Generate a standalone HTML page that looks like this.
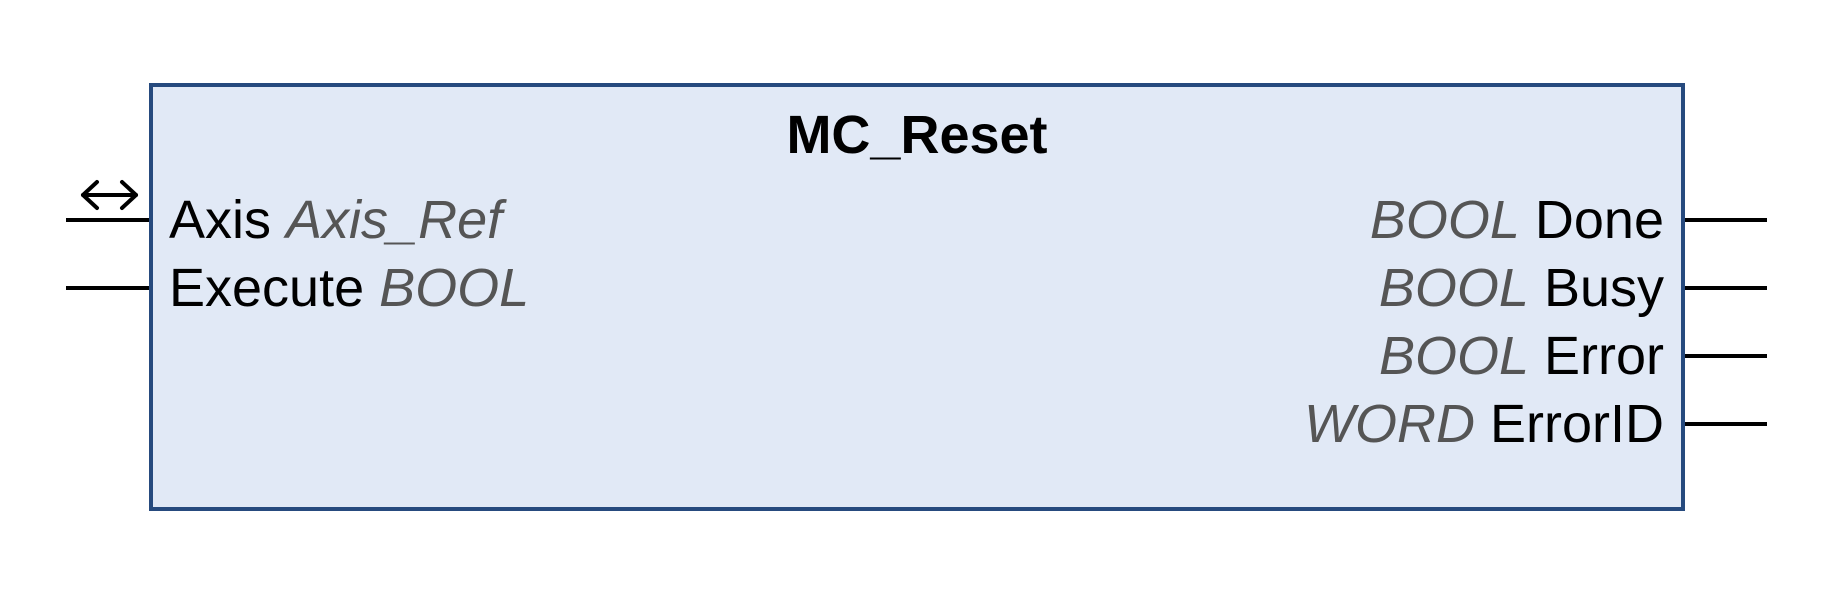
<!DOCTYPE html>
<html><head><style>
html,body{margin:0;padding:0;background:#fff;}
svg{display:block;}
text{font-family:"Liberation Sans",Arial,sans-serif;font-size:54px;}
.t{fill:#555;font-style:italic;}
</style></head><body>
<svg width="1836" height="594" viewBox="0 0 1836 594">
<rect x="151" y="85" width="1532" height="424" fill="#e1e9f6" stroke="#264a7e" stroke-width="4"/>
<text x="917" y="153" text-anchor="middle" font-weight="bold" font-size="52">MC_Reset</text>
<g stroke="#000" stroke-width="4">
<line x1="66" y1="220" x2="149" y2="220"/>
<line x1="66" y1="288" x2="149" y2="288"/>
<line x1="1685" y1="220" x2="1767" y2="220"/>
<line x1="1685" y1="288" x2="1767" y2="288"/>
<line x1="1685" y1="356" x2="1767" y2="356"/>
<line x1="1685" y1="424" x2="1767" y2="424"/>
</g>
<g stroke="#000" stroke-width="4" fill="none" stroke-linecap="round" stroke-linejoin="round">
<line x1="83" y1="195" x2="136" y2="195"/>
<polyline points="97,182 83,195 97,208"/>
<polyline points="122,182 136,195 122,208"/>
</g>
<text x="169" y="238">Axis <tspan class="t">Axis_Ref</tspan></text>
<text x="169" y="306">Execute <tspan class="t">BOOL</tspan></text>
<text x="1664" y="238" text-anchor="end"><tspan class="t">BOOL</tspan> Done</text>
<text x="1664" y="306" text-anchor="end"><tspan class="t">BOOL</tspan> Busy</text>
<text x="1664" y="374" text-anchor="end"><tspan class="t">BOOL</tspan> Error</text>
<text x="1664" y="442" text-anchor="end"><tspan class="t">WORD</tspan> ErrorID</text>
</svg>
</body></html>
